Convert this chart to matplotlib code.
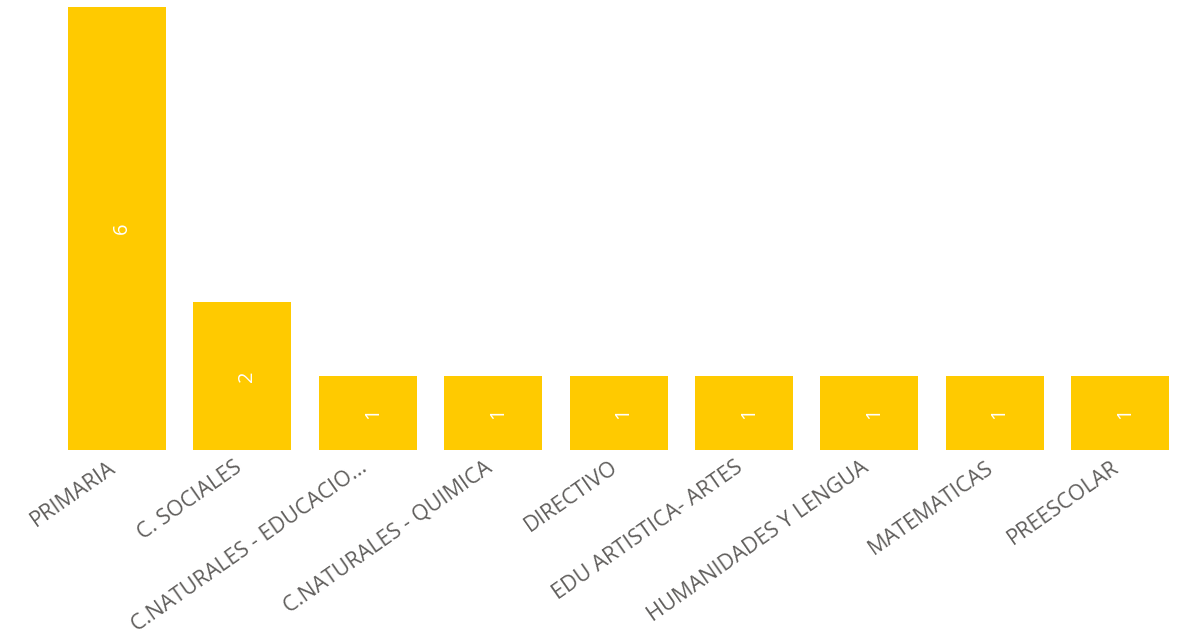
import matplotlib
matplotlib.use("Agg")
import matplotlib.pyplot as plt
from matplotlib.transforms import ScaledTranslation

categories = ["PRIMARIA", "C. SOCIALES", "C.NATURALES - EDUCACIO...", "C.NATURALES - QUIMICA",
              "DIRECTIVO", "EDU ARTISTICA- ARTES", "HUMANIDADES Y LENGUA", "MATEMATICAS", "PREESCOLAR"]
values = [6, 2, 1, 1, 1, 1, 1, 1, 1]

bar_color = "#FFCA00"
text_color = "#605E5C"

W, H = 1181, 634
fig = plt.figure(figsize=(W / 100, H / 100), dpi=100)
base_px = 450
ax = fig.add_axes([0, (H - base_px) / H, 1, base_px / H])

px_per_unit_x = (1120 - 117) / 8
xmin = -117 / px_per_unit_x
ax.set_xlim(xmin, xmin + W / px_per_unit_x)
px_per_unit_y = (450 - 7) / 6
ax.set_ylim(0, base_px / px_per_unit_y)

x = list(range(len(categories)))
bars = ax.bar(x, values, width=98 / px_per_unit_x, color=bar_color)

val_off = ScaledTranslation(5 / 100, 0, fig.dpi_scale_trans)
for b, v in zip(bars, values):
    ax.text(b.get_x() + b.get_width() / 2, v / 2, str(v), rotation=90,
            ha="center", va="center", color="white", fontsize=14.5, family="Open Sans",
            transform=ax.transData + val_off)

ax.set_xticks(x)
ax.set_xticklabels(categories, rotation=35, ha="right", rotation_mode="anchor",
                   color=text_color, fontsize=15.6, family="Open Sans")
ax.tick_params(axis="x", length=0, pad=5)
off = ScaledTranslation(-9 / 100, 0, fig.dpi_scale_trans)
for lab in ax.get_xticklabels():
    lab.set_transform(lab.get_transform() + off)
ax.set_yticks([])
for s in ax.spines.values():
    s.set_visible(False)

fig.savefig("out.png", dpi=100, facecolor="white")
